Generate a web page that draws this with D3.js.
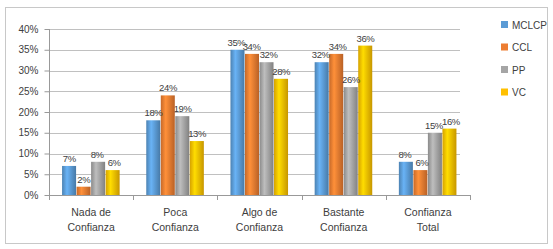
<!DOCTYPE html>
<html>
<head>
  <meta charset="UTF-8">
  <script src="https://d3js.org/d3.v7.min.js"></script>
  <style>
    body { margin: 0; background: white; }
    text { font-family: "Liberation Sans", Arial, sans-serif; fill: #404040; }
  </style>
</head>
<body>
  <svg></svg>
<script>
  let width = 553,
    height = 249;

  // data
  let categories = [["Nada de", "Confianza"], ["Poca", "Confianza"], ["Algo de", "Confianza"], ["Bastante", "Confianza"], ["Confianza", "Total"]];
  let series = ["MCLCP", "CCL", "PP", "VC"];
  let colors = ["#5B9BD5", "#ED7D31", "#A5A5A5", "#FFC000"];
  let mclcp = [7, 18, 35, 32, 8];
  let ccl = [2, 24, 34, 34, 6];
  let pp = [8, 19, 32, 26, 15];
  let vc = [6, 13, 28, 36, 16];
  let yTicks = [0, 5, 10, 15, 20, 25, 30, 35, 40];

  let values = [mclcp, ccl, pp, vc];
  let catNames = categories.map(c => c.join(" "));

  let svg = d3.select("svg")
    .attr("width", width)
    .attr("height", height);

  // outer frame
  svg.append("rect")
    .attr("x", 5.5).attr("y", 7.5)
    .attr("width", 542).attr("height", 236)
    .attr("fill", "white")
    .attr("stroke", "#c8c8c8");

  let x0 = d3.scaleBand().domain(catNames).range([49, 470]);
  let x1 = d3.scaleBand().domain(series).range([0, x0.bandwidth()]).paddingOuter(0.9);
  let y = d3.scaleLinear().domain([0, 40]).range([195, 29]);

  // gradients for the cylinder look
  let defs = svg.append("defs");
  colors.forEach((c, i) => {
    let g = defs.append("linearGradient").attr("id", "g" + i)
      .attr("x1", "0%").attr("x2", "100%");
    g.append("stop").attr("offset", "0%").attr("stop-color", d3.color(c).darker(0.5));
    g.append("stop").attr("offset", "35%").attr("stop-color", d3.color(c).brighter(0.4));
    g.append("stop").attr("offset", "100%").attr("stop-color", d3.color(c).darker(0.7));
  });

  // gridlines
  svg.append("g")
    .selectAll("line")
    .data(yTicks)
    .enter()
    .append("line")
    .attr("x1", 49).attr("x2", 460)
    .attr("y1", d => Math.round(y(d)) + 0.5)
    .attr("y2", d => Math.round(y(d)) + 0.5)
    .attr("stroke", "#c0c0c0");

  // y axis
  let yAxis = svg.append("g")
    .attr("transform", "translate(49.5,0)")
    .call(d3.axisLeft(y).tickValues(yTicks).tickFormat(d => d + "%").tickSize(5).tickPadding(6));
  yAxis.selectAll("path,line").attr("stroke", "#999");
  yAxis.selectAll("text").style("font-size", "10px");
  yAxis.select(".domain").attr("d", "M0," + y(40) + "V" + y(0));

  // floor line and category ticks
  svg.append("line")
    .attr("x1", 49).attr("x2", 470)
    .attr("y1", y(0) + 0.5).attr("y2", y(0) + 0.5)
    .attr("stroke", "#999");
  svg.append("g")
    .selectAll("line")
    .data(catNames.concat(["end"]))
    .enter()
    .append("line")
    .attr("x1", (d, i) => Math.round(i < 5 ? x0(d) : x0.range()[1]) + 0.5)
    .attr("x2", (d, i) => Math.round(i < 5 ? x0(d) : x0.range()[1]) + 0.5)
    .attr("y1", y(0)).attr("y2", y(0) + 5)
    .attr("stroke", "#999");

  // bars
  let groups = svg.append("g")
    .selectAll("g")
    .data(catNames)
    .enter()
    .append("g")
    .attr("transform", d => "translate(" + x0(d) + ",0)");

  groups.selectAll("rect")
    .data((d, ci) => series.map((s, si) => ({ s: s, si: si, v: values[si][ci] })))
    .enter()
    .append("rect")
    .attr("x", d => x1(d.s))
    .attr("y", d => y(d.v))
    .attr("width", x1.bandwidth() - 0.5)
    .attr("height", d => y(0) - y(d.v))
    .attr("fill", d => "url(#g" + d.si + ")");

  // value labels, pushed apart when neighbours sit at about the same height
  groups.each(function(cat, ci) {
    let labs = series.map((s, si) => ({ v: values[si][ci], x: x1(s) + x1.bandwidth() / 2, y: y(values[si][ci]) - 4 }));
    let w = 17;
    for (let k = 1; k < labs.length; k++) {
      let a = labs[k - 1], b = labs[k];
      if (Math.abs(a.y - b.y) < 10 && b.x - a.x < w) {
        let push = (w - (b.x - a.x)) / 2;
        a.x -= push;
        b.x += push;
      }
    }
    d3.select(this).selectAll("text.val")
      .data(labs)
      .enter()
      .append("text")
      .attr("class", "val")
      .attr("x", d => d.x)
      .attr("y", d => d.y)
      .attr("text-anchor", "middle")
      .style("font-size", "9.5px")
      .style("letter-spacing", "-0.4px")
      .text(d => d.v + "%");
  });

  // category labels
  let catLabels = svg.append("g")
    .selectAll("text")
    .data(categories)
    .enter()
    .append("text")
    .attr("text-anchor", "middle")
    .attr("x", (d, i) => x0(catNames[i]) + x0.bandwidth() / 2)
    .attr("y", 216)
    .style("font-size", "10.5px");
  catLabels.append("tspan").attr("x", (d, i) => x0(catNames[i]) + x0.bandwidth() / 2).text(d => d[0]);
  catLabels.append("tspan").attr("x", (d, i) => x0(catNames[i]) + x0.bandwidth() / 2).attr("dy", 15).text(d => d[1]);

  // legend
  let legend = svg.append("g")
    .selectAll("g")
    .data(series)
    .enter()
    .append("g")
    .attr("transform", (d, i) => "translate(501," + (21 + i * 22.5) + ")");
  legend.append("rect")
    .attr("width", 7).attr("height", 7)
    .attr("fill", (d, i) => colors[i]);
  legend.append("text")
    .attr("x", 11).attr("y", 7.5)
    .style("font-size", "10px")
    .text(d => d);
</script>
</body>
</html>
